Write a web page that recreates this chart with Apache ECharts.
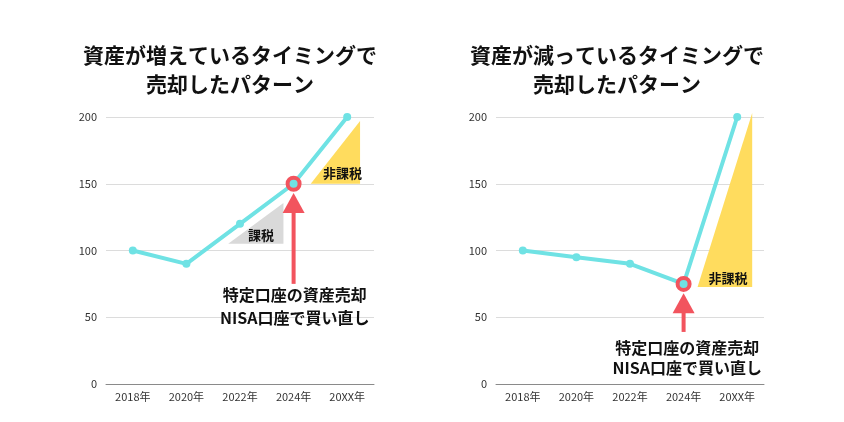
<!DOCTYPE html>
<html><head><meta charset="utf-8">
<script src="https://cdn.jsdelivr.net/npm/echarts@6/dist/echarts.min.js"></script>
<style>html,body{margin:0;padding:0;background:#fff}#c{width:844px;height:422px}</style>
</head><body><div id="c"></div>
<script>
const categories = ['2018年', '2020年', '2022年', '2024年', '20XX年'];
const upValues = [100, 90, 120, 150, 200];
const downValues = [100, 95, 90, 75, 200];
const yMin = 0, yMax = 200, yInterval = 50;
const sellIndex = 3;
const titleUp = '資産が増えているタイミングで\n売却したパターン';
const titleDown = '資産が減っているタイミングで\n売却したパターン';
const noteLines = ['特定口座の資産売却', 'NISA口座で買い直し'];
const taxFreeLabel = '非課税';
const taxLabel = '課税';

// annotation anchors in data space (category index may be fractional, value on y)
const upAnno = {
  yellow: [[3.32, 150], [4.24, 150], [4.24, 197]],
  gray: [[1.78, 105], [2.81, 105], [2.81, 135.5]],
  yellowText: [3.91, 158],
  grayText: [2.39, 111.5],
  arrow: {x: 3, tip: 143, base: 128, end: 75},
  note: [[3.02, 66.5], [3.02, 49.3]]
};
const downAnno = {
  yellow: [[3.26, 72.6], [4.28, 72.6], [4.28, 203]],
  yellowText: [3.83, 79.5],
  arrow: {x: 3, tip: 68, base: 53, end: 39},
  note: [[3.07, 27], [3.07, 12]]
};

const CYAN = '#6fe2e4', RED = '#f2545e', YELLOW = '#ffdc5e', GRAY = '#d9d9d9';
const FONT = '"Noto Sans CJK JP", "Noto Sans", sans-serif';

function makeData(vals) {
  return vals.map((v, i) => i === sellIndex
    ? {value: v, symbolSize: 12, itemStyle: {color: CYAN, borderColor: RED, borderWidth: 4}}
    : v);
}

function pt(api, x, y) {
  const i = Math.floor(x), f = x - i;
  const a = api.coord([0, y]), b = api.coord([1, y]);
  const w = b[0] - a[0];
  const p = api.coord([i, y]);
  return [p[0] + f * w, p[1]];
}

function annoRender(anno) {
  return function (params, api) {
    const children = [];
    children.push({type: 'polygon', shape: {points: anno.yellow.map(d => pt(api, d[0], d[1]))}, style: {fill: YELLOW}});
    if (anno.gray) {
      children.push({type: 'polygon', shape: {points: anno.gray.map(d => pt(api, d[0], d[1]))}, style: {fill: GRAY}});
      const g = pt(api, anno.grayText[0], anno.grayText[1]);
      children.push({type: 'text', x: g[0], y: g[1], style: {text: taxLabel, fill: '#111', font: 'bold 13px ' + FONT, align: 'center', verticalAlign: 'middle'}});
    }
    const yt = pt(api, anno.yellowText[0], anno.yellowText[1]);
    children.push({type: 'text', x: yt[0], y: yt[1], style: {text: taxFreeLabel, fill: '#111', font: 'bold 13px ' + FONT, align: 'center', verticalAlign: 'middle'}});
    const ar = anno.arrow;
    const tip = pt(api, ar.x, ar.tip), base = pt(api, ar.x, ar.base), end = pt(api, ar.x, ar.end);
    children.push({type: 'polygon', shape: {points: [[tip[0], tip[1]], [tip[0] - 11, base[1]], [tip[0] + 11, base[1]]]}, style: {fill: RED}});
    children.push({type: 'rect', shape: {x: tip[0] - 2, y: base[1] - 1, width: 4, height: end[1] - base[1] + 1}, style: {fill: RED}});
    anno.note.forEach((d, k) => {
      const p = pt(api, d[0], d[1]);
      children.push({type: 'text', x: p[0], y: p[1], style: {text: noteLines[k], fill: '#111', font: 'bold 16px ' + FONT, align: 'center', verticalAlign: 'middle'}});
    });
    return {type: 'group', children};
  };
}

const axisX = (gi) => ({
  type: 'category', gridIndex: gi, data: categories, boundaryGap: true,
  axisLine: {lineStyle: {color: '#8a8a8a', width: 1}}, axisTick: {show: false},
  axisLabel: {color: '#333', fontSize: 11, fontFamily: FONT, margin: 7}
});
const axisY = (gi) => ({
  type: 'value', gridIndex: gi, min: yMin, max: yMax, interval: yInterval,
  axisLine: {show: false}, axisTick: {show: false},
  axisLabel: {color: '#333', fontSize: 11, fontFamily: FONT, margin: 9},
  splitLine: {lineStyle: {color: '#dcdcdc', width: 1}}
});
const lineSeries = (gi, vals) => ({
  type: 'line', xAxisIndex: gi, yAxisIndex: gi, data: makeData(vals),
  symbol: 'circle', symbolSize: 8, z: 5,
  lineStyle: {color: CYAN, width: 4}, itemStyle: {color: CYAN},
  emphasis: {disabled: true}, animation: false
});

const chart = echarts.init(document.getElementById('c'), null, {renderer: 'canvas'});
chart.setOption({
  animation: false,
  title: [
    {text: titleUp, left: 225, top: 36, textAlign: 'center', textStyle: {fontSize: 21, fontWeight: 'bold', color: '#111', fontFamily: FONT, lineHeight: 29}},
    {text: titleDown, left: 612, top: 36, textAlign: 'center', textStyle: {fontSize: 21, fontWeight: 'bold', color: '#111', fontFamily: FONT, lineHeight: 29}}
  ],
  grid: [
    {left: 106, width: 268, top: 117, bottom: 38},
    {left: 496, width: 268, top: 117, bottom: 38}
  ],
  xAxis: [axisX(0), axisX(1)],
  yAxis: [axisY(0), axisY(1)],
  series: [
    {type: 'custom', xAxisIndex: 0, yAxisIndex: 0, data: [[0, 0]], renderItem: annoRender(upAnno), z: 3, silent: true},
    {type: 'custom', xAxisIndex: 1, yAxisIndex: 1, data: [[0, 0]], renderItem: annoRender(downAnno), z: 3, silent: true},
    lineSeries(0, upValues),
    lineSeries(1, downValues)
  ]
});
</script></body></html>
